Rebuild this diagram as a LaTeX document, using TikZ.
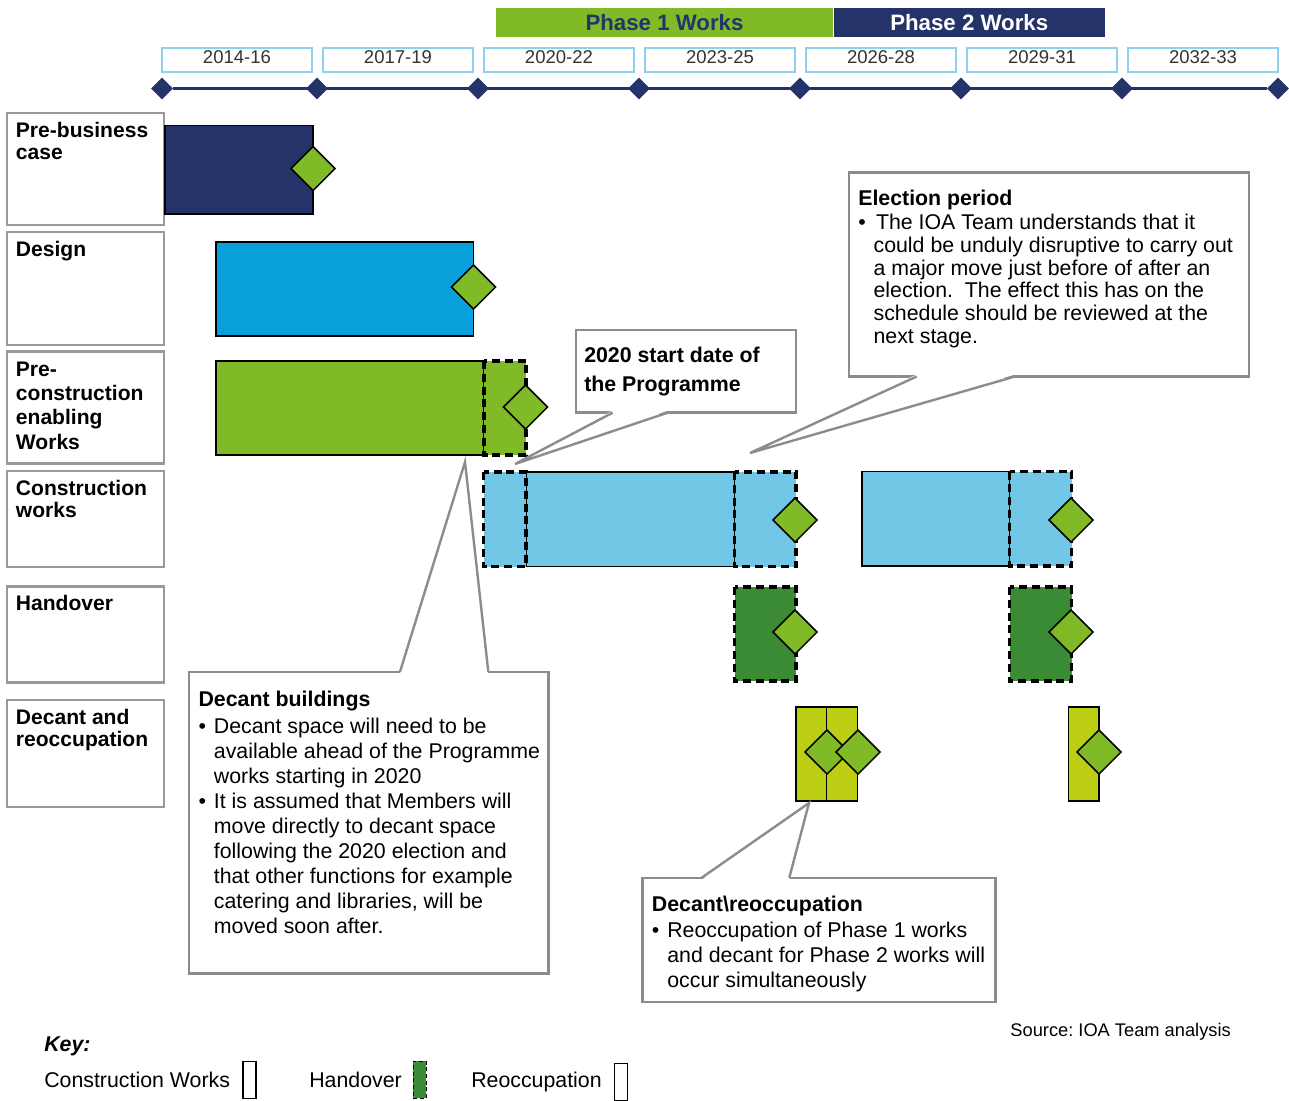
\documentclass[tikz,border=0pt]{standalone}
\usepackage{fontspec}
\setmainfont{Liberation Sans}
\usepackage{xcolor}
\usepackage{tikz}
\usetikzlibrary{shapes.geometric,positioning,calc}
\frenchspacing
\definecolor{PhaseNavy}{HTML}{24346A}
\definecolor{PhaseGreen}{HTML}{80BA27}
\definecolor{DesignBlue}{HTML}{089FDA}
\definecolor{WorksBlue}{HTML}{72C7E7}
\definecolor{HandGreen}{HTML}{3A8B34}
\definecolor{ReoccLime}{HTML}{BCCF14}
\definecolor{YearBlue}{HTML}{8ED0EE}
\definecolor{YearText}{HTML}{333333}
\definecolor{NoteGrey}{HTML}{8C8C8C}
\definecolor{StageGrey}{HTML}{999999}
\newcommand{\nbul}{\makebox[11.5pt][l]{\textbullet}}
\newcommand{\nind}{\hspace*{11.5pt}}
\tikzset{
  stg/.style={rectangle,draw=StageGrey,line width=1.8pt,anchor=north west,
              outer sep=0pt,inner sep=0pt,minimum width=117.75pt},
  stl/.style={anchor=north west,align=left,inner xsep=6.5pt,inner ysep=6.6pt,
              font=\fontsize{15.8}{16.8}\selectfont\bfseries},
  yr/.style={rectangle,draw=YearBlue,line width=1.1pt,minimum width=112.5pt,
             minimum height=18pt,inner sep=0pt,text depth=4pt,text=YearText,
             font=\fontsize{13.9}{16}\selectfont},
  ph/.style={rectangle,minimum height=21.75pt,inner sep=0pt,
             font=\fontsize{16.7}{19}\selectfont\bfseries},
  tk/.style={diamond,fill=PhaseNavy,minimum width=16.5pt,minimum height=16.5pt,
             inner sep=0pt},
  ms/.style={diamond,draw=black,line width=1.1pt,fill=PhaseGreen,
             minimum width=33.5pt,minimum height=33.5pt,inner sep=0pt},
  bar/.style={draw=black,line width=1.1pt},
  dbar/.style={draw=black,line width=2.3pt,dash pattern=on 6pt off 3.6pt},
  note/.style={rectangle,draw=NoteGrey,line width=1.8pt,fill=white,
               anchor=north west,outer sep=0pt,inner sep=0pt},
  ntxt/.style={anchor=north west,align=left,inner sep=0pt},
  ptr/.style={draw=NoteGrey,line width=1.8pt}
}

\begin{document}
\begin{tikzpicture}[
  x=0.75pt,y=-0.75pt,
  keytxt/.style={anchor=base west,inner sep=0pt,font=\fontsize{16}{19}\selectfont},
  kbox/.style={rectangle,draw=black,line width=1.2pt,fill=white,outer sep=0pt,
               inner sep=0pt,minimum width=9.75pt,minimum height=27.75pt}
]
  \useasboundingbox (0,0) rectangle (1289,1100);

  \node[ph,fill=PhaseGreen,text=PhaseNavy,minimum width=252.75pt] (p1) at (664.5,22.5) {Phase 1 Works};
  \node[ph,fill=PhaseNavy,text=white,minimum width=203pt] (p2) at (969.25,22.25) {Phase 2 Works};

  \node[yr] (y1) at (237,60) {2014-16};
  \node[yr] (y2) at (398,60) {2017-19};
  \node[yr] (y3) at (559,60) {2020-22};
  \node[yr] (y4) at (720,60) {2023-25};
  \node[yr] (y5) at (881,60) {2026-28};
  \node[yr] (y6) at (1042,60) {2029-31};
  \node[yr] (y7) at (1203,60) {2032-33};

  \node[tk] (t0) at (162,88.5) {};
  \node[tk] (t1) at (317,88.5) {};
  \node[tk] (t2) at (478,88.5) {};
  \node[tk] (t3) at (639,88.5) {};
  \node[tk] (t4) at (800,88.5) {};
  \node[tk] (t5) at (961,88.5) {};
  \node[tk] (t6) at (1122,88.5) {};
  \node[tk] (t7) at (1278,88.5) {};
  \draw[PhaseNavy,line width=2pt] (t0) -- (t7);

  \node[stg,minimum height=84pt] (sPB) at (7,113) {};
  \node[stl] (sPBt) at (sPB.north west) {Pre-business\\case};
  \node[stg,minimum height=84.75pt] (sDS) at (7,232) {};
  \node[stl] (sDSt) at (sDS.north west) {Design};
  \node[stg,minimum height=84pt] (sPC) at (7,351.5) {};
  \node[stl,inner ysep=7.3pt,font=\fontsize{15.8}{18.3}\selectfont\bfseries] (sPCt) at (sPC.north west) {Pre-\\construction\\enabling\\Works};
  \node[stg,minimum height=72pt] (sCW) at (7,471) {};
  \node[stl] (sCWt) at (sCW.north west) {Construction\\works};
  \node[stg,minimum height=72pt] (sHO) at (7,586.5) {};
  \node[stl] (sHOt) at (sHO.north west) {Handover};
  \node[stg,minimum height=80.25pt] (sDR) at (7,700) {};
  \node[stl] (sDRt) at (sDR.north west) {Decant and\\reoccupation};

  \filldraw[bar,fill=PhaseNavy] (165,125.5) rectangle (313,214);
  \node[ms] (mPB) at (313,168.5) {};

  \filldraw[bar,fill=DesignBlue] (216,242) rectangle (473.5,336);
  \node[ms] (mDS) at (473.5,287) {};

  \filldraw[bar,fill=PhaseGreen] (216,361) rectangle (484,455);
  \filldraw[dbar,fill=PhaseGreen] (484,361) rectangle (526,455);
  \node[ms] (mPC) at (525.5,407) {};

  \filldraw[bar,fill=WorksBlue] (526,472) rectangle (734.5,566.5);
  \filldraw[dbar,fill=WorksBlue] (483.5,472) rectangle (526,566.5);
  \filldraw[dbar,fill=WorksBlue] (734.5,472) rectangle (796,566.5);
  \node[ms] (mCW1) at (795,520) {};
  \filldraw[bar,fill=WorksBlue] (862,471.5) rectangle (1009.5,566);
  \filldraw[dbar,fill=WorksBlue] (1009.5,471.5) rectangle (1071.5,566);
  \node[ms] (mCW2) at (1071,520) {};

  \filldraw[dbar,fill=HandGreen] (734.5,587) rectangle (796,681);
  \node[ms] (mHO1) at (795,632) {};
  \filldraw[dbar,fill=HandGreen] (1009.5,587) rectangle (1071.5,681);
  \node[ms] (mHO2) at (1071,632) {};

  \filldraw[bar,fill=ReoccLime] (796,707) rectangle (826.5,801);
  \filldraw[bar,fill=ReoccLime] (826.5,707) rectangle (857.5,801);
  \node[ms] (mRO1) at (827,752) {};
  \node[ms] (mRO2) at (858,752) {};
  \filldraw[bar,fill=ReoccLime] (1068.5,707) rectangle (1099,801);
  \node[ms] (mRO3) at (1099,752) {};

  \node[note,minimum width=165pt,minimum height=62pt] (n20) at (576,330) {};
  \node[ntxt,font=\fontsize{16}{22}\selectfont\bfseries] (n20t) at ($(n20.north west)+(8,16.5)$) {2020 start date of\\the Programme};
  \coordinate (n20tip) at (515,464);
  \fill[white] ($(n20.south west)+(36.7,-2)$) -- (n20tip) -- ($(n20.south west)+(91.7,-2)$) -- cycle;
  \draw[ptr] ($(n20.south west)+(36.7,0)$) -- (n20tip) -- ($(n20.south west)+(91.7,0)$);

  \node[note,minimum width=300.2pt,minimum height=153pt] (nEl) at (849,172.5) {};
  \node[ntxt,font=\fontsize{16}{17}\selectfont] (nElt) at ($(nEl.north west)+(9,17.5)$) {\textbf{Election period}\\[1pt]
    \nbul\hspace{1.8pt}The IOA Team understands that it\\
    \nind could be unduly disruptive to carry out\\
    \nind a major move just before of after an\\
    \nind election.\ \ The effect this has on the\\
    \nind schedule should be reviewed at the\\
    \nind next stage.};
  \coordinate (nEltip) at (750,453);
  \fill[white] ($(nEl.south west)+(67.7,-2)$) -- (nEltip) -- ($(nEl.south west)+(166,-2)$) -- cycle;
  \draw[ptr] ($(nEl.south west)+(67.7,0)$) -- (nEltip) -- ($(nEl.south west)+(166,0)$);

  \node[note,minimum width=269.5pt,minimum height=226.2pt] (nDb) at (189,671.7) {};
  \node[ntxt,font=\fontsize{16}{18.8}\selectfont] (nDbt) at ($(nDb.north west)+(9.3,19)$) {\textbf{Decant buildings}\\[1.2pt]
    \nbul Decant space will need to be\\
    \nind available ahead of the Programme\\
    \nind works starting in 2020\\
    \nbul It is assumed that Members will\\
    \nind move directly to decant space\\
    \nind following the 2020 election and\\
    \nind that other functions for example\\
    \nind catering and libraries, will be\\
    \nind moved soon after.};
  \coordinate (nDbtip) at (465,462);
  \fill[white] ($(nDb.north west)+(211,2)$) -- (nDbtip) -- ($(nDb.north west)+(299.3,2)$) -- cycle;
  \draw[ptr] ($(nDb.north west)+(211,0)$) -- (nDbtip) -- ($(nDb.north west)+(299.3,0)$);

  \node[note,minimum width=265pt,minimum height=93pt] (nDr) at (642.3,877.7) {};
  \node[ntxt,font=\fontsize{16}{19}\selectfont] (nDrt) at ($(nDr.north west)+(9.4,18.3)$) {\textbf{Decant\textbackslash reoccupation}\\
    \nbul Reoccupation of Phase 1 works\\
    \nind and decant for Phase 2 works will\\
    \nind occur simultaneously};
  \coordinate (nDrtip) at (809,803);
  \fill[white] ($(nDr.north west)+(59.4,2)$) -- (nDrtip) -- ($(nDr.north west)+(147,2)$) -- cycle;
  \draw[ptr] ($(nDr.north west)+(59.4,0)$) -- (nDrtip) -- ($(nDr.north west)+(147,0)$);

  \node[keytxt,font=\fontsize{16}{19}\selectfont\bfseries\itshape] (kKey) at (44,1051.5) {Key:};
  \node[keytxt] (kCt) at (44,1087.5) {Construction Works};
  \node[kbox,right=9.5pt of kCt] (kC) {};
  \node[keytxt] (kHt) at (309,1087.5) {Handover};
  \node[kbox,fill=HandGreen,dash pattern=on 3pt off 2pt,right=8.5pt of kHt] (kH) {};
  \node[keytxt] (kRt) at (471,1087.5) {Reoccupation};
  \node[kbox,right=9.5pt of kRt] (kR) {};

  \node[anchor=base east,inner sep=0pt,font=\fontsize{13.7}{16}\selectfont] (src) at (1231,1036) {Source: IOA Team analysis};
\end{tikzpicture}
\end{document}
